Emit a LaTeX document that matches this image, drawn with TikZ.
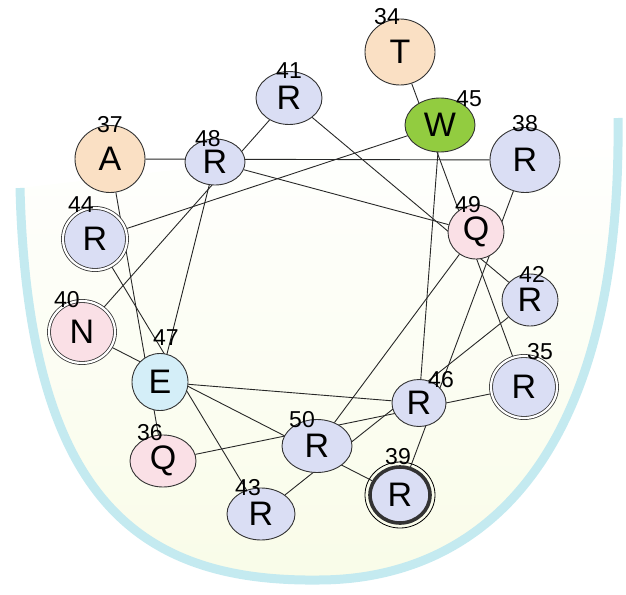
\documentclass[tikz,border=0pt]{standalone}
\usepackage{fontspec}
\setmainfont{Liberation Sans}
\definecolor{restan}{RGB}{250, 224, 196}
\definecolor{resgreen}{RGB}{146, 204, 64}
\definecolor{reslav}{RGB}{218, 222, 244}
\definecolor{respink}{RGB}{250, 224, 230}
\definecolor{rescyan}{RGB}{212, 238, 248}
\definecolor{bowlband}{RGB}{196, 234, 240}
\definecolor{bowlfill}{RGB}{249, 252, 232}
\definecolor{linkgray}{RGB}{40, 40, 40}
\usetikzlibrary{shapes.geometric, backgrounds}

\begin{document}
\begin{tikzpicture}[x=1pt, y=-1pt,
  res/.style={ellipse, draw=black!80, line width=0.9pt, inner sep=0pt, font=\fontsize{34}{34}\selectfont},
  ring/.style={double, double distance=2.2pt, line width=0.8pt},
  num/.style={inner sep=0pt, font=\fontsize{23}{23}\selectfont},
  link/.style={draw=linkgray, line width=0.9pt}]
  \useasboundingbox (0,0) rectangle (626,594);

  % residues 34-40
  \node[res, fill=restan, minimum width=70pt, minimum height=66pt] (r34) at (400,52) {T};
  \node[res, ring, fill=reslav, minimum width=66pt, minimum height=62pt] (r35) at (524,387) {R};
  \node[res, fill=respink, minimum width=66pt, minimum height=52pt] (r36) at (163,461) {Q};
  \node[res, fill=restan, minimum width=70pt, minimum height=67pt] (r37) at (110,159) {A};
  \node[res, fill=reslav, minimum width=70pt, minimum height=65pt] (r38) at (525,160) {R};
  \node[res, fill=reslav, line width=3.6pt, minimum width=60pt, minimum height=56pt] (r39) at (400,495) {R};
  \node[res, ring, fill=respink, minimum width=66pt, minimum height=62pt] (r40) at (82,332) {N};

  % residues 41-50
  \node[res, fill=reslav, minimum width=66pt, minimum height=53pt] (r41) at (289,98) {R};
  \node[res, fill=reslav, minimum width=56pt, minimum height=52pt] (r42) at (530,300) {R};
  \node[res, fill=reslav, minimum width=68pt, minimum height=52pt] (r43) at (261,514) {R};
  \node[res, ring, fill=reslav, minimum width=64pt, minimum height=62pt] (r44) at (95,239) {R};
  \node[res, fill=resgreen, minimum width=70pt, minimum height=54pt] (r45) at (440,125) {W};
  \node[res, fill=reslav, minimum width=54pt, minimum height=47pt] (r46) at (419,403) {R};
  \node[res, fill=rescyan, minimum width=56pt, minimum height=57pt] (r47) at (160,382) {E};
  \node[res, fill=reslav, minimum width=60pt, minimum height=46pt] (r48) at (215,162) {R};
  \node[res, fill=respink, minimum width=56pt, minimum height=54pt] (r49) at (476,232) {Q};
  \node[res, fill=reslav, minimum width=70pt, minimum height=53pt] (r50) at (317,446) {R};

  \draw[line width=0.8pt] (r39.center) ellipse [x radius=35, y radius=33];

  % residue numbers
  \node[num] (n34) at (387,17) {34};
  \node[num] (n35) at (540,352) {35};
  \node[num] (n36) at (150,433) {36};
  \node[num] (n37) at (110,125) {37};
  \node[num] (n38) at (525,124) {38};
  \node[num] (n39) at (398,457) {39};
  \node[num] (n40) at (67,300) {40};
  \node[num] (n41) at (289,71) {41};
  \node[num] (n42) at (532,274) {42};
  \node[num] (n43) at (248,488) {43};
  \node[num] (n44) at (81,205) {44};
  \node[num] (n45) at (469,99) {45};
  \node[num] (n46) at (441,380) {46};
  \node[num] (n47) at (166,338) {47};
  \node[num] (n48) at (208,139) {48};
  \node[num] (n49) at (468,205) {49};
  \node[num] (n50) at (302,420) {50};

  \begin{pgfonlayer}{background}
    % bowl
    \shade[top color=white, bottom color=bowlfill]
      (20,188) .. controls (28,500) and (140,582) .. (318,580)
      .. controls (480,580) and (622,460) .. (618,118) -- cycle;
    \draw[bowlband, line width=9pt]
      (20,188) .. controls (28,500) and (140,582) .. (318,580)
      .. controls (480,580) and (622,460) .. (618,118);

    % wheel
    \draw[link] (r34) -- (r35);
    \draw[link] (r35) -- (r36);
    \draw[link] (r36) -- (r37);
    \draw[link] (r37) -- (r38);
    \draw[link] (r38) -- (r39);
    \draw[link] (r39) -- (r40);
    \draw[link] (r40) -- (r41);
    \draw[link] (r41) -- (r42);
    \draw[link] (r42) -- (r43);
    \draw[link] (r43) -- (r44);
    \draw[link] (r44) -- (r45);
    \draw[link] (r45) -- (r46);
    \draw[link] (r46) -- (r47);
    \draw[link] (r47) -- (r48);
    \draw[link] (r48) -- (r49);
    \draw[link] (r49) -- (r50);
  \end{pgfonlayer}
\end{tikzpicture}
\end{document}
